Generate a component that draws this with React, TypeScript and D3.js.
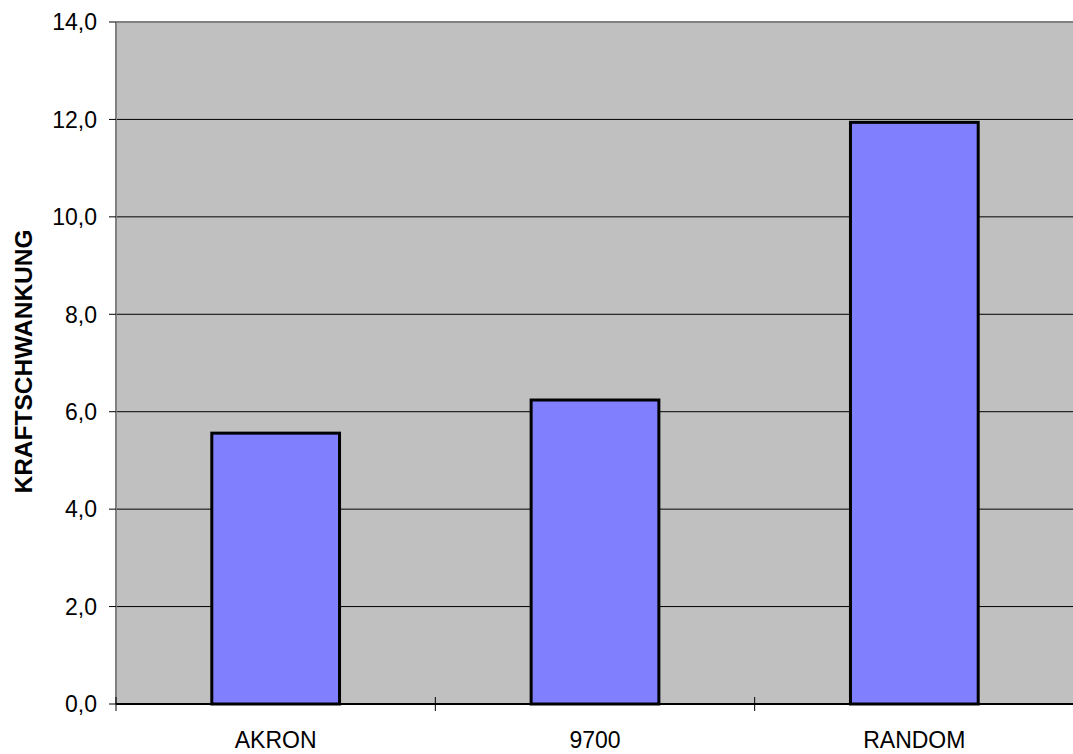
import React from "react";
import * as d3 from "d3";

const categories = ["AKRON", "9700", "RANDOM"];
const values = [5.56, 6.24, 11.94];
const yTicks = [0, 2, 4, 6, 8, 10, 12, 14];
const yLabel = "KRAFTSCHWANKUNG";

const W = 1073;
const H = 754;
const left = 116;
const right = 1074;
const top = 22;
const bottom = 704;

export default function App() {
  const x = d3.scaleBand<string>().domain(categories).range([left, right]).paddingInner(0.6).paddingOuter(0.3);
  const y = d3.scaleLinear().domain([0, 14]).range([bottom, top]);
  const step = x.step();
  const fmt = (v: number) => v.toFixed(1).replace(".", ",");
  return (
    <svg width={W} height={H} style={{ position: "absolute", left: 0, top: 0, fontFamily: "Arial, 'Liberation Sans', sans-serif" }}>
      <rect x={0} y={0} width={W} height={H} fill="#fff" />
      <rect x={left} y={top} width={right - left + 10} height={bottom - top} fill="#C0C0C0" />
      {yTicks.filter((t) => t > 0 && t < 14).map((t) => (
        <line key={t} x1={left} x2={W} y1={y(t)} y2={y(t)} stroke="#000" strokeWidth={1} />
      ))}
      <line x1={left} x2={W} y1={top} y2={top} stroke="#808080" strokeWidth={2} />
      <line x1={left} x2={left} y1={top} y2={bottom} stroke="#808080" strokeWidth={2} />
      {categories.map((c, i) => (
        <rect
          key={c}
          x={x(c)!}
          y={y(values[i])}
          width={x.bandwidth()}
          height={y(0) - y(values[i])}
          fill="#8080FF"
          stroke="#000"
          strokeWidth={3}
        />
      ))}
      <line x1={left} x2={W} y1={bottom} y2={bottom} stroke="#000" strokeWidth={2} />
      {yTicks.map((t) => (
        <g key={t}>
          <line x1={left - 7} x2={left} y1={y(t)} y2={y(t)} stroke="#000" strokeWidth={1} />
          <text x={97} y={y(t)} dy="0.36em" textAnchor="end" fontSize={23} fill="#000">
            {fmt(t)}
          </text>
        </g>
      ))}
      {d3.range(categories.length + 1).map((i) => (
        <line key={i} x1={left + i * step} x2={left + i * step} y1={bottom - 7} y2={bottom + 7} stroke="#000" strokeWidth={1} />
      ))}
      {categories.map((c) => (
        <text key={c} x={x(c)! + x.bandwidth() / 2} y={748} textAnchor="middle" fontSize={23} fill="#000">
          {c}
        </text>
      ))}
      <text
        transform={`translate(32, ${(228 + 495) / 2}) rotate(-90)`}
        textAnchor="middle"
        fontSize={24.5}
        fontWeight="bold"
        fill="#000"
      >
        {yLabel}
      </text>
    </svg>
  );
}
